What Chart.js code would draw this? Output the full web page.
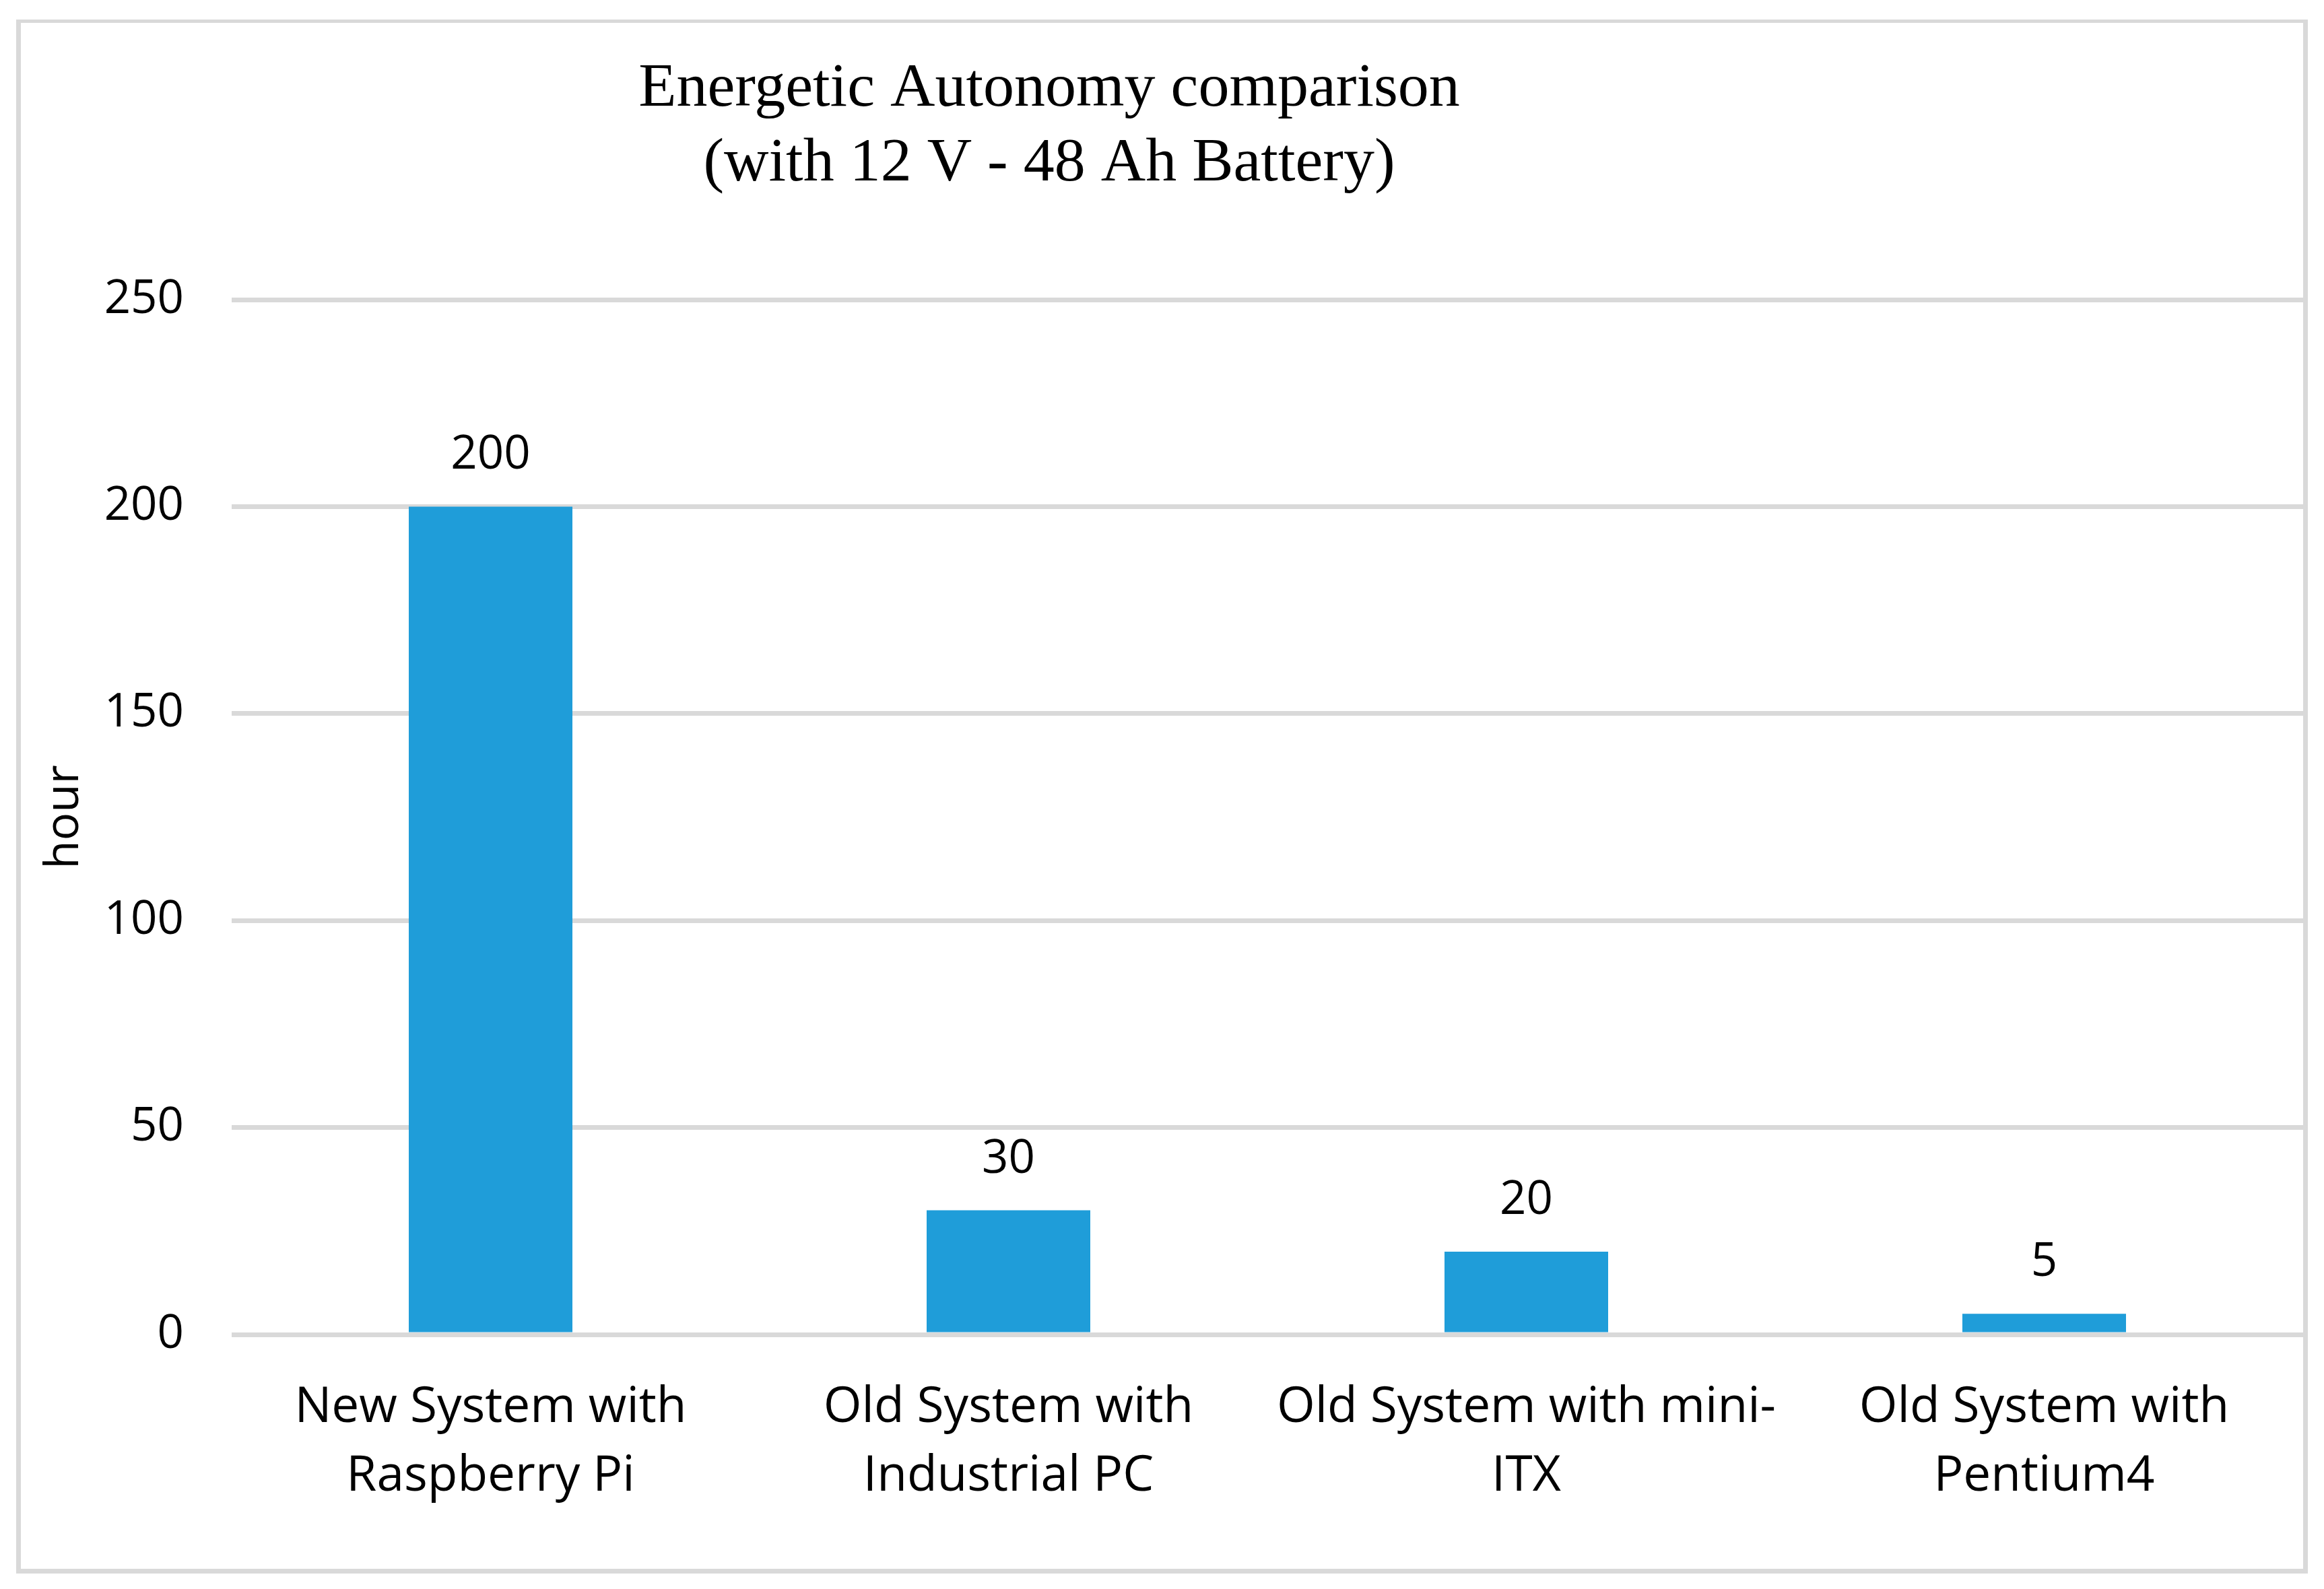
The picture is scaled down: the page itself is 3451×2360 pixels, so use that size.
<!DOCTYPE html>
<html>
<head>
<meta charset="utf-8">
<title>Energetic Autonomy comparison</title>
<script src="https://cdn.jsdelivr.net/npm/chart.js@4"></script>
<style>
  html, body { margin: 0; padding: 0; background: #fff; }
  #frame {
    position: absolute;
    left: 24px; top: 29px;
    width: 3403px; height: 2308px;
    box-sizing: border-box;
    border: 7px solid #d9d9d9;
    border-top-width: 5px;
    background: #fff;
  }
  #chart { display: block; }
</style>
</head>
<body>
<div id="frame"><canvas id="chart" width="3389" height="2296"></canvas></div>
<script>
const categories = [
  ['New System with', 'Raspberry Pi'],
  ['Old System with', 'Industrial PC'],
  ['Old System with mini-', 'ITX'],
  ['Old System with', 'Pentium4']
];
const hours = [200, 30, 20, 5];
const yTicks = [0, 50, 100, 150, 200, 250];
const titleLines = ['Energetic Autonomy comparison', '(with 12 V - 48 Ah Battery)'];

const labelFont = '"Open Sans", sans-serif';

// title sits left of centre in the original, so draw it ourselves
const titlePlugin = {
  id: 'titlePlugin',
  afterDraw(chart) {
    const ctx = chart.ctx;
    ctx.save();
    ctx.font = '92px "Liberation Serif", serif';
    ctx.fillStyle = '#000';
    ctx.textAlign = 'center';
    ctx.textBaseline = 'alphabetic';
    ctx.fillText(titleLines[0], 1527, 123);
    ctx.fillText(titleLines[1], 1527, 234);
    ctx.restore();
  }
};

const valueLabels = {
  id: 'valueLabels',
  afterDatasetsDraw(chart) {
    const ctx = chart.ctx;
    const meta = chart.getDatasetMeta(0);
    ctx.save();
    ctx.font = '69px ' + labelFont;
    ctx.fillStyle = '#000';
    ctx.textAlign = 'center';
    ctx.textBaseline = 'alphabetic';
    meta.data.forEach((bar, i) => {
      ctx.fillText(String(hours[i]), bar.x, bar.y - 56);
    });
    ctx.restore();
  }
};

new Chart(document.getElementById('chart'), {
  type: 'bar',
  data: {
    labels: categories,
    datasets: [{
      data: hours,
      backgroundColor: '#1f9dd9',
      borderWidth: 0,
      barPercentage: 0.316,
      categoryPercentage: 1
    }]
  },
  options: {
    responsive: false,
    animation: false,
    devicePixelRatio: 1,
    layout: { padding: { top: 411, left: 0, right: 0, bottom: 0 } },
    plugins: {
      legend: { display: false },
      title: { display: false },
      tooltip: { enabled: false }
    },
    scales: {
      x: {
        grid: { display: false },
        border: { display: false },
        ticks: {
          color: '#000',
          padding: 50,
          maxRotation: 0,
          autoSkip: false,
          font: { family: labelFont, size: 73, lineHeight: 1.4 }
        },
        afterFit(scale) { scale.height = 348; }
      },
      y: {
        min: 0,
        max: 250,
        grid: { color: '#d9d9d9', lineWidth: 7, drawTicks: false },
        border: { display: false },
        ticks: {
          color: '#000',
          padding: 71,
          font: { family: labelFont, size: 69 }
        },
        afterBuildTicks(scale) {
          scale.ticks = yTicks.map(v => ({ value: v }));
        },
        title: {
          display: true,
          text: 'hour',
          color: '#000',
          padding: { top: 24, bottom: 0 },
          font: { family: labelFont, size: 69, lineHeight: 1.2 }
        },
        afterFit(scale) { scale.width = 313; }
      }
    }
  },
  plugins: [titlePlugin, valueLabels]
});
</script>
</body>
</html>
